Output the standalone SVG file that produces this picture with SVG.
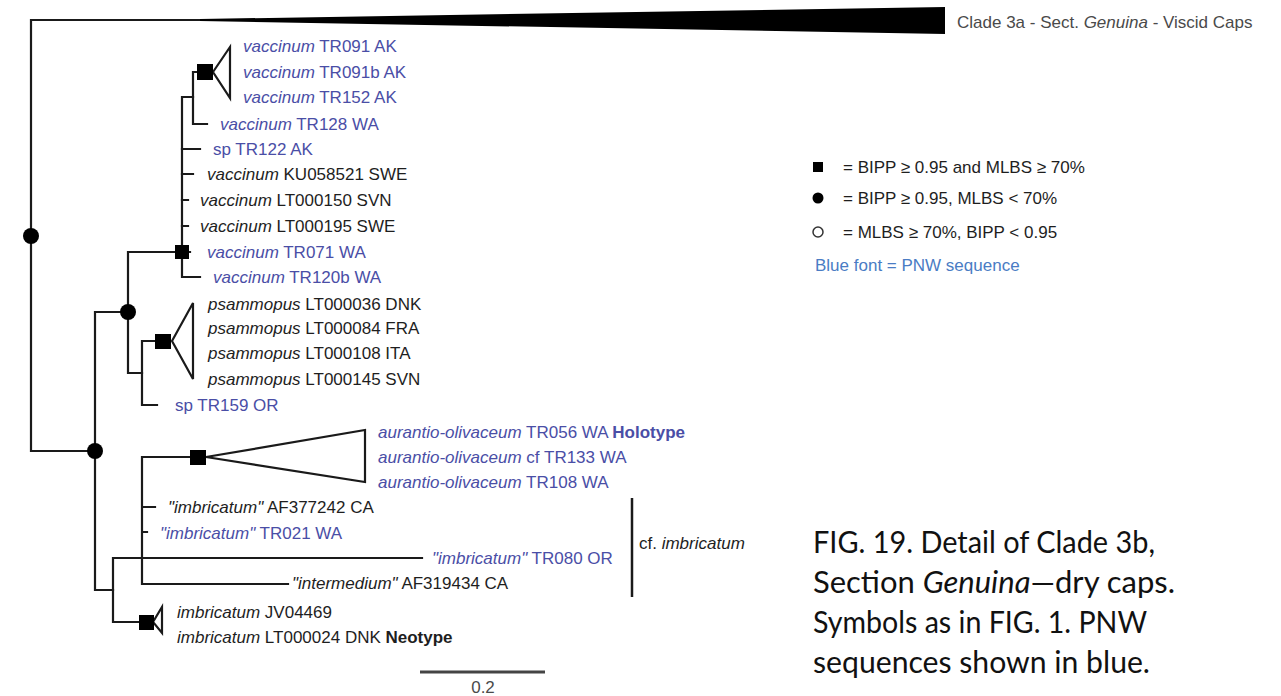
<svg xmlns="http://www.w3.org/2000/svg" width="1281" height="696" viewBox="0 0 1281 696">
<style>
.br{stroke:#1a1a1a;stroke-width:2.2;fill:none;stroke-linecap:square}
.wd{stroke:#1a1a1a;stroke-width:2.2;fill:#fff;stroke-linejoin:miter}
.sq{fill:#000}
.dot{fill:#000}
text{font-family:"Liberation Sans",Arial,sans-serif;font-size:17px}
.k{fill:#1e1e1e}
.b{fill:#4a4ea6}
.i{font-style:italic}
.g{fill:#4a4a4a}
.lg{fill:#1e1e1e;font-size:17px}
.lb{fill:#4a7cc4;font-size:17px}
.cap{font-family:Lato,"Open Sans",sans-serif;font-size:30px;fill:#111}
</style>
<rect width="1281" height="696" fill="#fff"/>
<g id="connectors">
<path class="br" d="M200,20 H31 V451 H95"/>
<polygon points="200,19 945,7 945,34 200,21" fill="#000"/>
<path class="br" d="M128,312 H95 V590 H113"/>
<path class="br" d="M182,252 H128 V373 H142"/>
<path class="br" d="M193,97 H182 V277 H200"/>
<path class="br" d="M182,149 H200 M182,174 H193 M182,200 H188 M182,226 H188 M182,252 H190"/>
<path class="br" d="M205,72 H193 V124 H207"/>
<path class="br" d="M163,341 H142 V405 H157"/>
<path class="br" d="M113,558 V622 H146 M113,558 H422"/>
<path class="br" d="M198,457 H142 V584 H288 M142,507 H155 M142,532 H147"/>
<path d="M632,498 V597" stroke="#1a1a1a" stroke-width="2.5"/>
<path d="M420,672 H545" stroke="#444" stroke-width="3"/>
</g>
<g id="wedges">
<polygon class="wd" points="213,72 230,47 230,98"/>
<polygon class="wd" points="172,341 193,303 193,379"/>
<polygon class="wd" points="206,457 365,430 365,482"/>
<polygon class="wd" points="153,622 162,607 162,633"/>
</g>
<g id="support">
<circle class="dot" cx="31" cy="236" r="8"/>
<circle class="dot" cx="128" cy="312" r="8"/>
<circle class="dot" cx="95" cy="451" r="8"/>
<rect class="sq" x="197" y="64" width="16" height="16"/>
<rect class="sq" x="175" y="245" width="14" height="14"/>
<rect class="sq" x="155" y="334" width="16" height="15"/>
<rect class="sq" x="190" y="450" width="16" height="15"/>
<rect class="sq" x="139" y="615" width="15" height="15"/>
</g>
<g id="clade3a"><text x="957" y="28" class="g">Clade 3a - Sect. <tspan class="i">Genuina</tspan> - Viscid Caps</text></g>
<g id="leaves">
<text x="243" y="52" class="b"><tspan class="i">vaccinum</tspan> TR091 AK</text>
<text x="243" y="78" class="b"><tspan class="i">vaccinum</tspan> TR091b AK</text>
<text x="243" y="103" class="b"><tspan class="i">vaccinum</tspan> TR152 AK</text>
<text x="220" y="130" class="b"><tspan class="i">vaccinum</tspan> TR128 WA</text>
<text x="213" y="155" class="b">sp TR122 AK</text>
<text x="207" y="180" class="k"><tspan class="i">vaccinum</tspan> KU058521 SWE</text>
<text x="200" y="206" class="k"><tspan class="i">vaccinum</tspan> LT000150 SVN</text>
<text x="200" y="232" class="k"><tspan class="i">vaccinum</tspan> LT000195 SWE</text>
<text x="207" y="258" class="b"><tspan class="i">vaccinum</tspan> TR071 WA</text>
<text x="213" y="283" class="b"><tspan class="i">vaccinum</tspan> TR120b WA</text>
<text x="208" y="310" class="k"><tspan class="i">psammopus</tspan> LT000036 DNK</text>
<text x="208" y="334" class="k"><tspan class="i">psammopus</tspan> LT000084 FRA</text>
<text x="208" y="359" class="k"><tspan class="i">psammopus</tspan> LT000108 ITA</text>
<text x="208" y="385" class="k"><tspan class="i">psammopus</tspan> LT000145 SVN</text>
<text x="175" y="411" class="b">sp TR159 OR</text>
<text x="378" y="438" class="b"><tspan class="i">aurantio-olivaceum</tspan> TR056 WA <tspan font-weight="bold">Holotype</tspan></text>
<text x="378" y="463" class="b"><tspan class="i">aurantio-olivaceum</tspan> cf TR133 WA</text>
<text x="378" y="488" class="b"><tspan class="i">aurantio-olivaceum</tspan> TR108 WA</text>
<text x="168" y="513" class="k"><tspan class="i">"imbricatum"</tspan> AF377242 CA</text>
<text x="160" y="539" class="b"><tspan class="i">"imbricatum"</tspan> TR021 WA</text>
<text x="432" y="564" class="b"><tspan class="i">"imbricatum"</tspan> TR080 OR</text>
<text x="292" y="589" class="k"><tspan class="i">"intermedium"</tspan> AF319434 CA</text>
<text x="177" y="618" class="k"><tspan class="i">imbricatum</tspan> JV04469</text>
<text x="177" y="643" class="k"><tspan class="i">imbricatum</tspan> LT000024 DNK <tspan font-weight="bold">Neotype</tspan></text>
</g>
<g id="bracket-label"><text x="639" y="549" class="k">cf. <tspan class="i">imbricatum</tspan></text></g>
<g id="scale"><text x="483" y="693" class="g" font-size="15" text-anchor="middle">0.2</text></g>
<g id="legend">
<rect x="813" y="162" width="10" height="10" fill="#000"/>
<text x="843" y="173" class="lg">= BIPP ≥ 0.95 and MLBS ≥ 70%</text>
<circle cx="818" cy="198" r="5.5" fill="#000"/>
<text x="843" y="204" class="lg">= BIPP ≥ 0.95, MLBS &lt; 70%</text>
<circle cx="818" cy="232" r="5" fill="#fff" stroke="#333" stroke-width="1.5"/>
<text x="843" y="238" class="lg">= MLBS ≥ 70%, BIPP &lt; 0.95</text>
<text x="815" y="271" class="lb">Blue font = PNW sequence</text>
</g>
<g id="caption">
<text x="813" y="553" class="cap" textLength="342" lengthAdjust="spacingAndGlyphs">FIG. 19. Detail of Clade 3b,</text>
<text x="813" y="593" class="cap" textLength="362" lengthAdjust="spacingAndGlyphs">Section <tspan font-style="italic">Genuina</tspan>—dry caps.</text>
<text x="813" y="633" class="cap" textLength="334" lengthAdjust="spacingAndGlyphs">Symbols as in FIG. 1. PNW</text>
<text x="813" y="673" class="cap" textLength="337" lengthAdjust="spacingAndGlyphs">sequences shown in blue.</text>
</g>
</svg>
